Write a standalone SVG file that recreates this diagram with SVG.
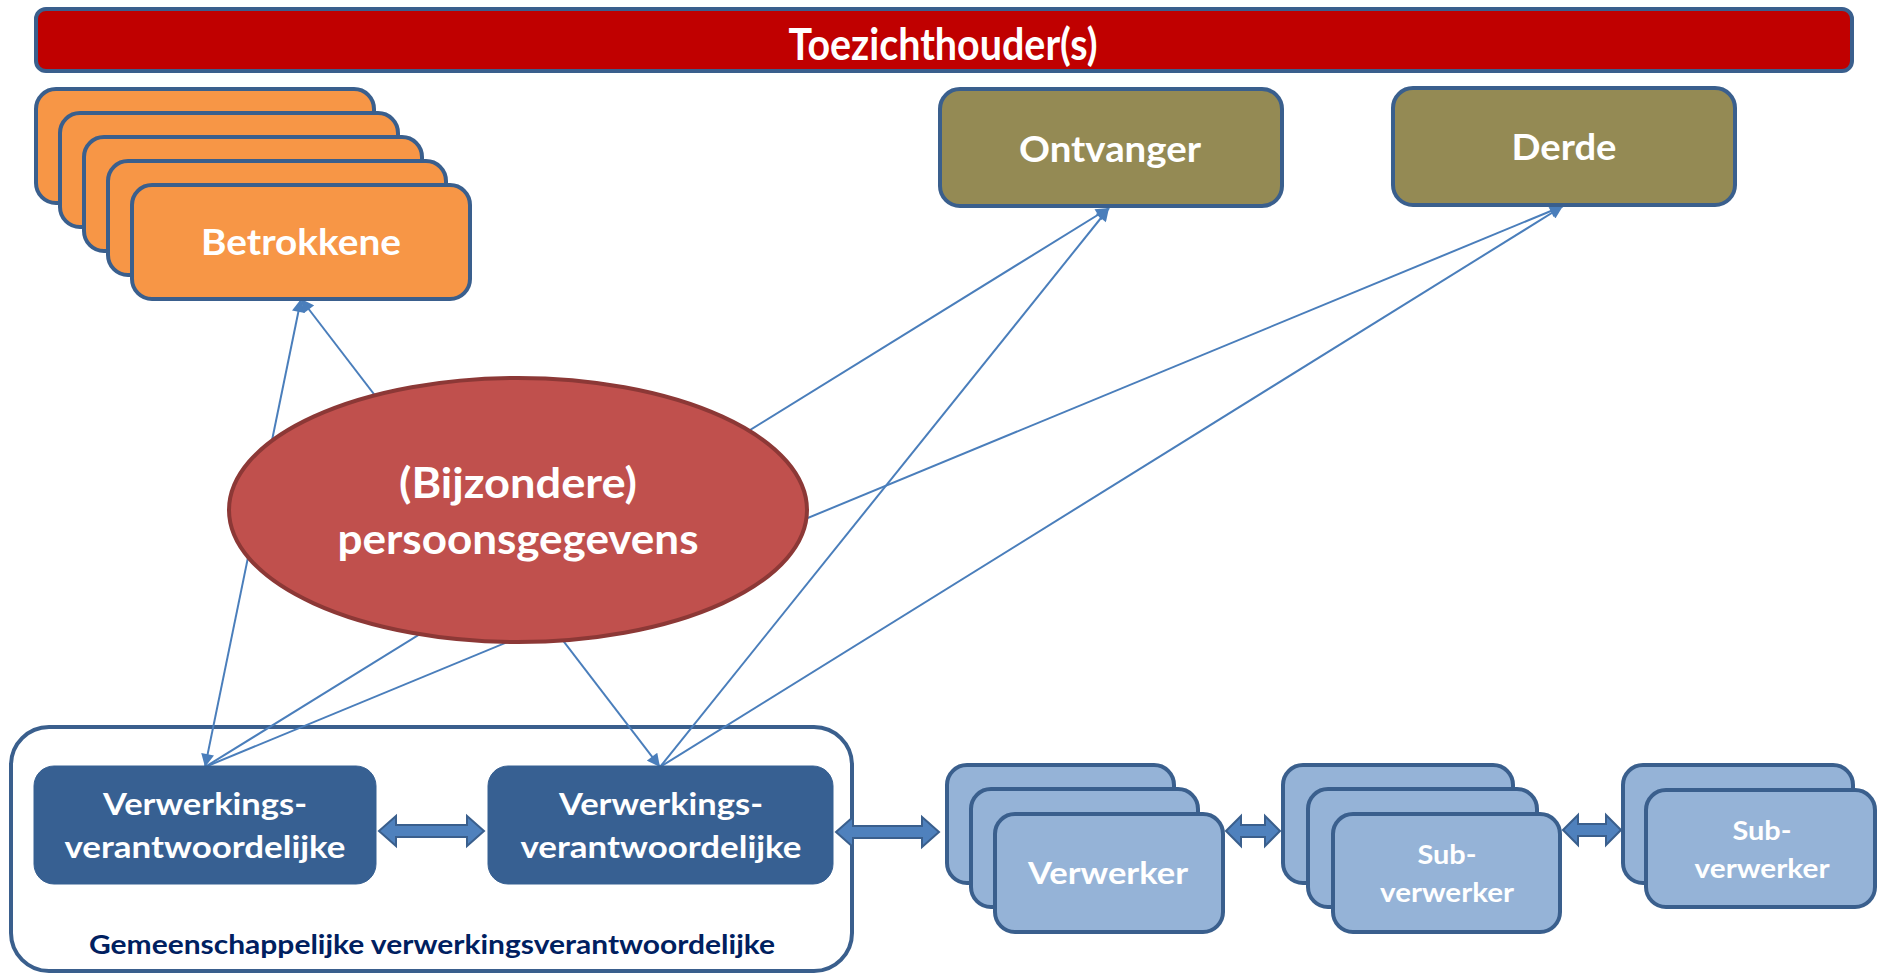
<svg xmlns="http://www.w3.org/2000/svg" width="1877" height="973" viewBox="0 0 1877 973">
<defs>
<style>
text{font-family:Lato,"Open Sans","Liberation Sans",sans-serif;font-weight:bold;fill:#fff;text-anchor:middle}
.bx{stroke:#3A5F8D;stroke-width:4}
.or{fill:#F79646}
.ol{fill:#948A54}
.lb{fill:#95B3D7}
.db{fill:#376092;stroke:#376092;stroke-width:1}
.cn{stroke:#4A7EBB;stroke-width:2;fill:none}
.da{fill:#4F81BD;stroke:#3A5F8D;stroke-width:2}
</style>
<marker id="ah" viewBox="0 0 10 10" refX="10" refY="5" markerWidth="15" markerHeight="13" markerUnits="userSpaceOnUse" orient="auto-start-reverse">
<path d="M0,0 L10,5 L0,10 z" fill="#4A7EBB"/>
</marker>
</defs>
<rect width="1877" height="973" fill="#fff"/>

<g id="toezichthouder">
<rect x="36" y="9" width="1816" height="62" rx="10" fill="#C00000" class="bx"/>
<text x="943" y="60" font-size="44" textLength="309" lengthAdjust="spacingAndGlyphs">Toezichthouder(s)</text>
</g>

<g id="gemeenschappelijk">
<rect x="11" y="727" width="841" height="244" rx="38" fill="#fff" class="bx"/>
<text x="432" y="954" font-size="26" style="fill:#002060" textLength="686" lengthAdjust="spacingAndGlyphs">Gemeenschappelijke verwerkingsverantwoordelijke</text>
</g>

<g id="connectors">
<line class="cn" x1="205" y1="767" x2="301" y2="299" marker-start="url(#ah)" marker-end="url(#ah)"/>
<line class="cn" x1="660" y1="767" x2="301" y2="299" marker-start="url(#ah)" marker-end="url(#ah)"/>
<line class="cn" x1="205" y1="767" x2="1109" y2="208" marker-end="url(#ah)"/>
<line class="cn" x1="205" y1="767" x2="1563" y2="206" marker-end="url(#ah)"/>
<line class="cn" x1="660" y1="767" x2="1109" y2="208" marker-end="url(#ah)"/>
<line class="cn" x1="660" y1="767" x2="1563" y2="206" marker-end="url(#ah)"/>
<polygon class="da" points="379,831 396,816 396,825 467,825 467,816 484,831 467,846 467,837 396,837 396,846"/>
<polygon class="da" points="836,832 853,817 853,826 922,826 922,817 939,832 922,847 922,838 853,838 853,847"/>
<polygon class="da" points="1226,831 1241,816 1241,825 1265,825 1265,816 1280,831 1265,846 1265,837 1241,837 1241,846"/>
<polygon class="da" points="1563,830 1578,815 1578,824 1606,824 1606,815 1621,830 1606,845 1606,836 1578,836 1578,845"/>
</g>

<g id="betrokkene">
<rect x="36" y="89" width="338" height="114" rx="20" class="bx or"/>
<rect x="60" y="113" width="338" height="114" rx="20" class="bx or"/>
<rect x="84" y="137" width="338" height="114" rx="20" class="bx or"/>
<rect x="108" y="161" width="338" height="114" rx="20" class="bx or"/>
<rect x="132" y="185" width="338" height="114" rx="20" class="bx or"/>
<text x="301" y="255" font-size="36" textLength="200" lengthAdjust="spacingAndGlyphs">Betrokkene</text>
</g>

<g id="ontvanger">
<rect x="940" y="89" width="342" height="117" rx="20" class="bx ol"/>
<text x="1110" y="162" font-size="37" textLength="182" lengthAdjust="spacingAndGlyphs">Ontvanger</text>
</g>

<g id="derde">
<rect x="1393" y="88" width="342" height="117" rx="20" class="bx ol"/>
<text x="1564" y="160" font-size="37" textLength="105" lengthAdjust="spacingAndGlyphs">Derde</text>
</g>

<g id="persoonsgegevens">
<ellipse cx="518" cy="510" rx="289" ry="132" fill="#C0504D" stroke="#8C3836" stroke-width="4"/>
<text x="518" y="498" font-size="42" textLength="238" lengthAdjust="spacingAndGlyphs">(Bijzondere)</text>
<text x="518" y="554" font-size="42" textLength="361" lengthAdjust="spacingAndGlyphs">persoonsgegevens</text>
</g>

<g id="vv1">
<rect x="34" y="766" width="342" height="118" rx="20" class="db"/>
<text x="205" y="815" font-size="31" textLength="204" lengthAdjust="spacingAndGlyphs">Verwerkings-</text>
<text x="205" y="858" font-size="31" textLength="281" lengthAdjust="spacingAndGlyphs">verantwoordelijke</text>
</g>

<g id="vv2">
<rect x="488" y="766" width="345" height="118" rx="20" class="db"/>
<text x="661" y="815" font-size="31" textLength="204" lengthAdjust="spacingAndGlyphs">Verwerkings-</text>
<text x="661" y="858" font-size="31" textLength="281" lengthAdjust="spacingAndGlyphs">verantwoordelijke</text>
</g>

<g id="verwerker">
<rect x="947" y="765" width="227" height="118" rx="20" class="bx lb"/>
<rect x="971" y="789" width="227" height="118" rx="20" class="bx lb"/>
<rect x="995" y="814" width="228" height="118" rx="20" class="bx lb"/>
<text x="1108" y="884" font-size="31" textLength="160" lengthAdjust="spacingAndGlyphs">Verwerker</text>
</g>

<g id="subverwerker1">
<rect x="1283" y="765" width="230" height="118" rx="20" class="bx lb"/>
<rect x="1308" y="789" width="229" height="118" rx="20" class="bx lb"/>
<rect x="1333" y="814" width="227" height="118" rx="20" class="bx lb"/>
<text x="1447" y="864" font-size="26" textLength="59" lengthAdjust="spacingAndGlyphs">Sub-</text>
<text x="1447" y="902" font-size="26" textLength="134" lengthAdjust="spacingAndGlyphs">verwerker</text>
</g>

<g id="subverwerker2">
<rect x="1623" y="765" width="230" height="118" rx="20" class="bx lb"/>
<rect x="1646" y="790" width="229" height="117" rx="20" class="bx lb"/>
<text x="1762" y="840" font-size="26" textLength="59" lengthAdjust="spacingAndGlyphs">Sub-</text>
<text x="1762" y="878" font-size="26" textLength="135" lengthAdjust="spacingAndGlyphs">verwerker</text>
</g>
</svg>
